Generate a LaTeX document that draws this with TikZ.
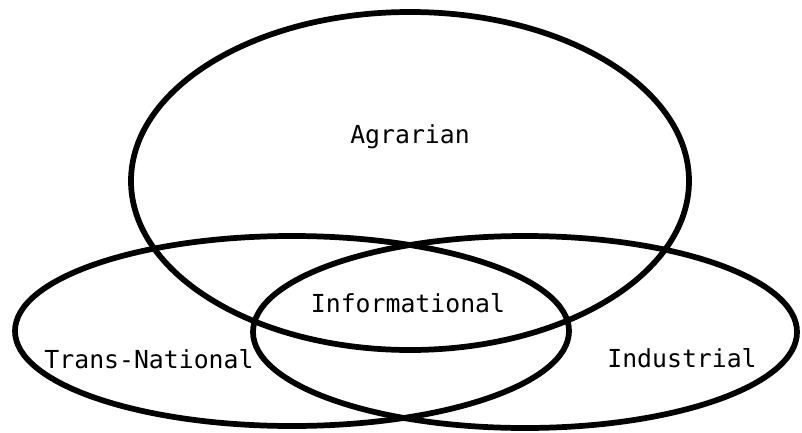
\documentclass[tikz,border=0pt]{standalone}
\usepackage{fontspec}
\setmonofont{DejaVu Sans Mono}
\begin{document}
\begin{tikzpicture}[x=0.75pt,y=-0.75pt,
  ring/.style={draw=black,line width=4.3pt},
  lbl/.style={font=\ttfamily\fontsize{18.6}{21}\selectfont,inner sep=0pt,anchor=base}]
\useasboundingbox (0,0) rectangle (802,432);
\draw[ring] (410,181) ellipse [x radius=279,y radius=169];
\draw[ring] (292,331) ellipse [x radius=277,y radius=95];
\draw[ring] (525,332) ellipse [x radius=272,y radius=96];
\node[lbl] (agr) at (410,143) {Agrarian};
\node[lbl] (inf) at (408,312) {Informational};
\node[lbl] (tn) at (149,368) {Trans-National};
\node[lbl] (ind) at (682,367) {Industrial};
\end{tikzpicture}
\end{document}
